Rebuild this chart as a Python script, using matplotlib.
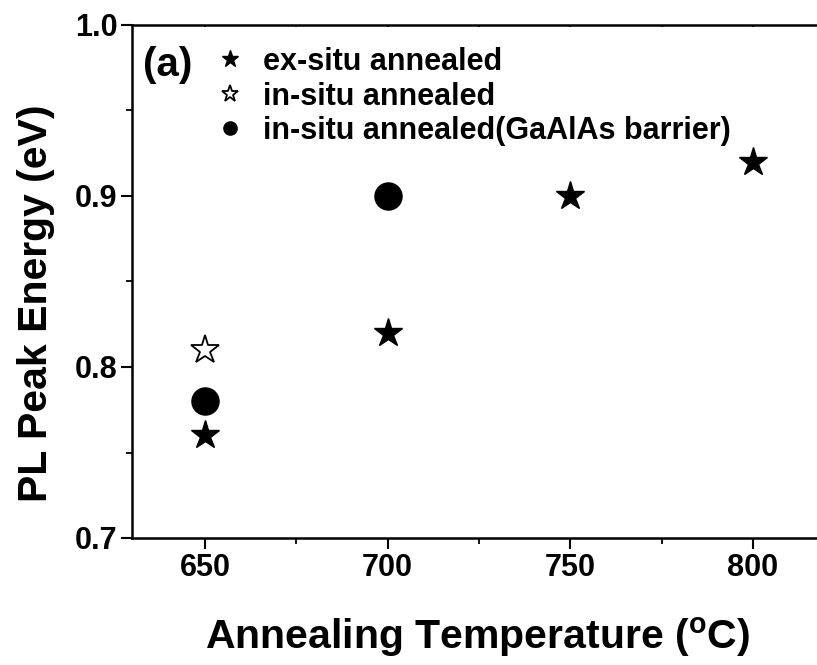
import matplotlib
matplotlib.use("Agg")
import matplotlib.pyplot as plt
from matplotlib.ticker import MultipleLocator, FormatStrFormatter

plt.rcParams['font.family'] = ['Liberation Sans', 'DejaVu Sans']
plt.rcParams['font.weight'] = 'bold'
plt.rcParams['mathtext.default'] = 'bf'

ex_T = [650, 700, 750, 800]
ex_E = [0.76, 0.82, 0.90, 0.92]
in_T = [650]
in_E = [0.81]
gaalas_T = [650, 700]
gaalas_E = [0.78, 0.90]

W, H = 817, 665
fig = plt.figure(figsize=(W / 100, H / 100), dpi=100)
# axes: left spine x=132, top y=25, bottom y=538 (pixels); right spine just off canvas
ax = fig.add_axes([132 / W, (H - 538) / H, (826 - 132) / W, (538 - 25) / H])

ax.plot(ex_T, ex_E, ls='none', marker='*', ms=21, color='black', mec='black',
        label='ex-situ annealed')
ax.plot(in_T, in_E, ls='none', marker='*', ms=21, mfc='white', mec='black', mew=1.3,
        label='in-situ annealed')
ax.plot(gaalas_T, gaalas_E, ls='none', marker='o', ms=19.5, color='black',
        label='in-situ annealed(GaAlAs barrier)')

ax.set_xlim(630, 820)
ax.set_ylim(0.7, 1.0)
ax.xaxis.set_major_locator(MultipleLocator(50))
ax.xaxis.set_minor_locator(MultipleLocator(25))
ax.yaxis.set_major_locator(MultipleLocator(0.1))
ax.yaxis.set_minor_locator(MultipleLocator(0.05))
ax.yaxis.set_major_formatter(FormatStrFormatter('%.1f'))
ax.tick_params(which='major', direction='out', length=8, width=1.5, labelsize=22, pad=2.5)
ax.tick_params(which='minor', direction='out', length=4.5, width=1.3)
ax.tick_params(axis='x', which='both', top=True, labeltop=False)
for t in ax.xaxis.get_major_ticks() + ax.xaxis.get_minor_ticks():
    t.tick2line.set_markersize(1.5)
    t.tick2line.set_marker(3)
ax.tick_params(right=False)
for s in ax.spines.values():
    s.set_linewidth(1.8)
for lab in ax.get_xticklabels() + ax.get_yticklabels():
    lab.set_fontweight('bold')

fig.text(478 / W, (H - 637) / H, 'Annealing Temperature ($\\mathregular{^{o}}$C)',
         fontsize=29.5, fontweight='bold', ha='center', va='center')
fig.text(36 / W, (H - 303) / H, 'PL Peak Energy (eV)', rotation=90,
         fontsize=29.5, fontweight='bold', ha='center', va='center')

fig.text(143 / W, (H - 76) / H, '(a)', fontsize=29, fontweight='bold',
         ha='left', va='baseline')

leg = ax.legend(loc='upper left', bbox_to_anchor=(214.75 / W, (H - 47) / H),
                bbox_transform=fig.transFigure, frameon=False,
                prop={'weight': 'bold', 'size': 22}, handlelength=1.0,
                handletextpad=0.58, labelspacing=0.15, borderpad=0, borderaxespad=0)
sizes = [12.5, 12.5, 9.5]
for h, s in zip(leg.legend_handles, sizes):
    h.set_markersize(s)

fig.savefig('out.png', dpi=100)
